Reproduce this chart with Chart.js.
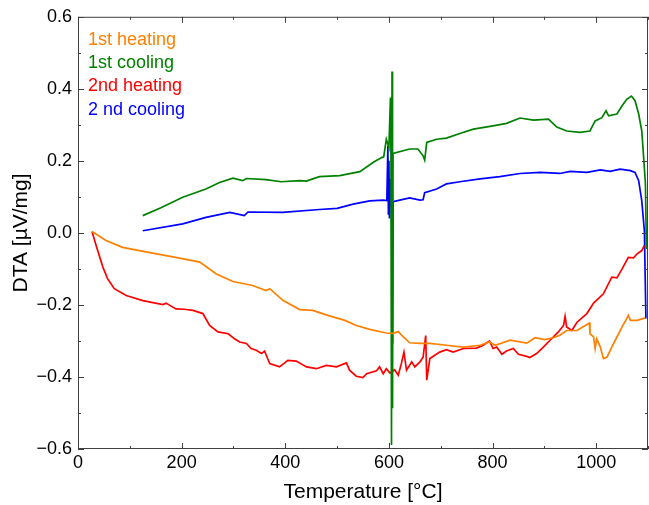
<!DOCTYPE html>
<html>
<head>
<meta charset="utf-8">
<script src="https://cdn.jsdelivr.net/npm/chart.js@4.4.1/dist/chart.umd.min.js"></script>
<style>
  body { margin: 0; background: #fff; }
  #wrap { width: 649px; height: 505px; }
</style>
</head>
<body>
<div id="wrap"><canvas id="dtaChart" width="649" height="505"></canvas></div>
<script>
// 1st heating
const heat1T = [27, 54, 86, 144, 196, 235, 267, 299, 337, 363, 370, 396, 428, 453, 482, 515, 537, 563, 595, 608, 618, 628, 640, 660, 679, 711, 744, 776, 794, 805, 834, 866, 882, 901, 917, 930, 943, 963, 987, 988, 995, 998, 1001, 1008, 1014, 1021, 1030, 1040, 1050, 1059, 1062, 1066, 1079, 1095];
const heat1V = [0.004, -0.021, -0.040, -0.056, -0.070, -0.081, -0.114, -0.135, -0.146, -0.160, -0.155, -0.188, -0.213, -0.215, -0.229, -0.243, -0.257, -0.268, -0.278, -0.279, -0.274, -0.289, -0.305, -0.307, -0.307, -0.312, -0.317, -0.312, -0.303, -0.312, -0.298, -0.306, -0.291, -0.296, -0.291, -0.284, -0.271, -0.271, -0.250, -0.280, -0.289, -0.321, -0.294, -0.317, -0.349, -0.345, -0.317, -0.289, -0.261, -0.238, -0.229, -0.243, -0.243, -0.236];

// 1st cooling
const cool1T = [125, 160, 202, 247, 273, 299, 318, 325, 363, 392, 428, 441, 453, 466, 505, 544, 570, 586, 590, 595, 600, 603, 604, 605, 606, 607, 608, 640, 656, 666, 669, 673, 692, 711, 737, 763, 801, 827, 853, 879, 908, 924, 943, 969, 988, 998, 1011, 1019, 1024, 1040, 1050, 1059, 1068, 1075, 1082, 1088, 1093, 1095, 1097];
const cool1V = [0.048, 0.070, 0.099, 0.122, 0.140, 0.152, 0.145, 0.151, 0.148, 0.142, 0.145, 0.144, 0.150, 0.156, 0.159, 0.170, 0.196, 0.209, 0.211, 0.260, 0.237, 0.376, 0.200, -0.589, 0.448, -0.487, 0.221, 0.233, 0.233, 0.214, 0.202, 0.251, 0.260, 0.263, 0.276, 0.288, 0.297, 0.304, 0.319, 0.313, 0.316, 0.294, 0.283, 0.279, 0.283, 0.311, 0.320, 0.339, 0.325, 0.330, 0.353, 0.371, 0.380, 0.367, 0.330, 0.283, 0.180, 0.137, -0.045];

// 2nd heating
const heat2T = [27, 35, 48, 57, 70, 93, 125, 164, 170, 189, 205, 222, 241, 254, 270, 290, 302, 312, 325, 334, 344, 354, 360, 370, 389, 405, 421, 441, 460, 479, 499, 518, 524, 537, 550, 557, 576, 582, 589, 595, 602, 611, 618, 624, 629, 634, 644, 650, 660, 666, 671, 673, 679, 698, 711, 724, 744, 769, 782, 794, 801, 808, 818, 827, 840, 850, 866, 872, 885, 898, 911, 927, 937, 940, 943, 953, 963, 982, 995, 1014, 1030, 1040, 1050, 1062, 1072, 1079, 1088, 1093];
const heat2V = [0.004, -0.035, -0.095, -0.127, -0.155, -0.174, -0.188, -0.199, -0.195, -0.211, -0.212, -0.215, -0.224, -0.257, -0.275, -0.280, -0.294, -0.303, -0.307, -0.321, -0.326, -0.335, -0.328, -0.363, -0.372, -0.354, -0.356, -0.372, -0.377, -0.368, -0.372, -0.361, -0.381, -0.398, -0.402, -0.391, -0.383, -0.372, -0.391, -0.377, -0.389, -0.380, -0.395, -0.363, -0.331, -0.381, -0.358, -0.372, -0.358, -0.345, -0.285, -0.409, -0.349, -0.331, -0.324, -0.331, -0.321, -0.320, -0.312, -0.300, -0.321, -0.317, -0.337, -0.328, -0.321, -0.337, -0.343, -0.346, -0.335, -0.317, -0.298, -0.275, -0.257, -0.232, -0.261, -0.271, -0.248, -0.224, -0.195, -0.169, -0.123, -0.125, -0.100, -0.068, -0.069, -0.058, -0.049, -0.035];

// 2nd cooling
const cool2T = [125, 202, 247, 293, 321, 328, 395, 466, 500, 531, 563, 589, 596, 598, 599, 600, 601, 603, 605, 607, 608, 621, 640, 660, 666, 669, 692, 711, 737, 776, 814, 853, 892, 930, 950, 982, 1008, 1027, 1046, 1066, 1075, 1082, 1088, 1093, 1096];
const cool2V = [0.006, 0.025, 0.043, 0.057, 0.048, 0.058, 0.057, 0.065, 0.068, 0.080, 0.089, 0.091, 0.090, 0.242, 0.053, 0.200, 0.040, 0.150, 0.088, -0.307, 0.087, 0.091, 0.097, 0.091, 0.092, 0.112, 0.122, 0.136, 0.142, 0.150, 0.156, 0.165, 0.168, 0.165, 0.171, 0.168, 0.175, 0.171, 0.177, 0.173, 0.168, 0.145, 0.089, 0.006, -0.238];

const seriesNames = ['1st heating', '1st cooling', '2nd heating', '2 nd cooling'];
const seriesColors = ['#ff8000', '#008000', '#ff0000', '#0000ff'];

function pts(xs, ys) {
  return xs.map((t, i) => ({ x: t, y: ys[i] }));
}

const fontFam = "'Liberation Sans', Arial, sans-serif";

// inward ticks on all four sides plus frame
const frameTicks = {
  id: 'frameTicks',
  afterDraw(chart) {
    const { ctx, chartArea: a, scales: { x, y } } = chart;
    ctx.save();
    ctx.strokeStyle = '#404040';
    ctx.lineWidth = 1;
    ctx.strokeRect(a.left + 0.5, a.top + 0.5, a.right - a.left - 1, a.bottom - a.top - 1);
    ctx.beginPath();
    for (let t = 0; t <= 1100; t += 100) {
      const px = Math.round(x.getPixelForValue(t)) + 0.5;
      const len = t % 200 === 0 ? 6 : 3;
      ctx.moveTo(px, a.bottom); ctx.lineTo(px, a.bottom - len);
      ctx.moveTo(px, a.top); ctx.lineTo(px, a.top + len);
    }
    for (let i = -6; i <= 6; i++) {
      const py = Math.round(y.getPixelForValue(i / 10)) + 0.5;
      const len = i % 2 === 0 ? 6 : 3;
      ctx.moveTo(a.left, py); ctx.lineTo(a.left + len, py);
      ctx.moveTo(a.right, py); ctx.lineTo(a.right - len, py);
    }
    ctx.stroke();
    ctx.restore();
  }
};

// coloured text legend inside the plot
const textLegend = {
  id: 'textLegend',
  afterDraw(chart) {
    const { ctx, chartArea: a } = chart;
    ctx.save();
    ctx.font = '18px ' + fontFam;
    ctx.textAlign = 'left';
    ctx.textBaseline = 'alphabetic';
    chart.data.datasets.forEach((ds, i) => {
      ctx.fillStyle = ds.borderColor;
      ctx.fillText(ds.label, a.left + 10, a.top + 28 + i * 23.3);
    });
    ctx.restore();
  }
};

const data = {
  datasets: [
    { label: seriesNames[0], data: pts(heat1T, heat1V), borderColor: seriesColors[0] },
    { label: seriesNames[1], data: pts(cool1T, cool1V), borderColor: seriesColors[1] },
    { label: seriesNames[2], data: pts(heat2T, heat2V), borderColor: seriesColors[2] },
    { label: seriesNames[3], data: pts(cool2T, cool2V), borderColor: seriesColors[3] }
  ]
};
data.datasets.forEach(ds => {
  ds.borderWidth = 1.7;
  ds.pointRadius = 0;
  ds.fill = false;
  ds.tension = 0;
});

const config = {
  type: 'line',
  data: data,
  options: {
    responsive: false,
    animation: false,
    devicePixelRatio: 1,
    layout: { padding: { top: 15, right: 1, left: 0, bottom: 0 } },
    plugins: { legend: { display: false }, tooltip: { enabled: false } },
    scales: {
      x: {
        type: 'linear',
        min: 0, max: 1100,
        grid: { display: false, drawTicks: false },
        border: { display: false },
        ticks: {
          stepSize: 200, includeBounds: false, padding: 3,
          color: '#000', font: { family: fontFam, size: 18 },
          callback: v => String(v)
        },
        title: {
          display: true, text: 'Temperature [°C]', color: '#000',
          font: { family: fontFam, size: 21 }, padding: { top: 0, bottom: 0 }
        },
        afterFit(scale) { scale.height = 56; }
      },
      y: {
        type: 'linear',
        min: -0.6, max: 0.6,
        grid: { display: false, drawTicks: false },
        border: { display: false },
        ticks: {
          stepSize: 0.2, padding: 6, color: '#000',
          font: { family: fontFam, size: 18 },
          callback: v => v.toFixed(1).replace('-', '\u2212')
        },
        title: {
          display: true, text: 'DTA [µV/mg]', color: '#000',
          font: { family: fontFam, size: 21 }, padding: { top: 9, bottom: 0 }
        },
        afterFit(scale) { scale.width = 78; }
      }
    }
  },
  plugins: [frameTicks, textLegend]
};

const dtaChart = new Chart(document.getElementById('dtaChart'), config);
</script>
</body>
</html>
